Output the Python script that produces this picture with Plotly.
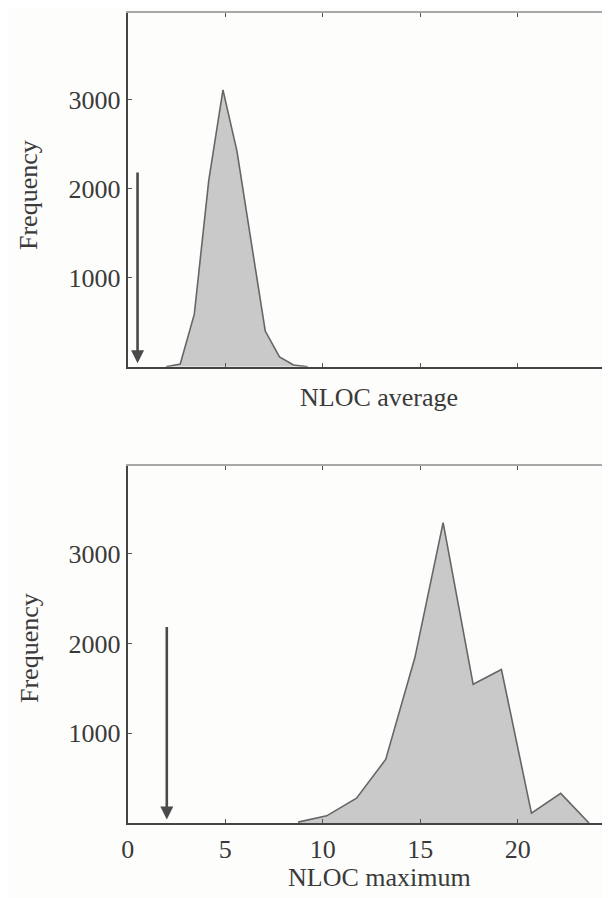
import plotly.graph_objects as go

# ---- data ----
avg_x = [1.96, 2.69, 3.41, 4.15, 4.88, 5.60, 6.33, 7.05, 7.78, 8.50, 9.23]
avg_y = [0, 30, 590, 2090, 3110, 2420, 1400, 400, 110, 20, 0]

max_x = [8.73, 10.20, 11.73, 13.23, 14.72, 16.17, 17.71, 19.16, 20.70, 22.20, 23.65]
max_y = [10, 80, 277, 710, 1840, 3345, 1545, 1710, 110, 330, 0]

arrow_x = [0.5, 2.0]        # arrow positions (top, bottom panel)
arrow_from = 2200
arrow_to = 40

x_ticks = [0, 5, 10, 15, 20]
x_ticklabels = ["0", "5", "10", "15", "20"]
y_ticks = [1000, 2000, 3000]
y_ticklabels = ["1000", "2000", "3000"]

x_label_top = "NLOC average"
x_label_bottom = "NLOC maximum"
y_label = "Frequency"

# ---- styling ----
W, H = 610, 898          # page body has an 8px margin; figure coords = page - 8
BG = "#fdfdfb"
FONT = "Liberation Serif"
TXT = "#3a3a3a"
FS = 26
PX_PER_UNIT = 19.5
X_LEFT, X_RIGHT = 119.8, 605.0
XRANGE = [0, (X_RIGHT - X_LEFT) / PX_PER_UNIT]
YRANGE = [0, 3980]
XDOM = [X_LEFT / W, X_RIGHT / W]
YDOM_TOP = [1 - 358.7 / H, 1 - 4.5 / H]
YDOM_BOT = [1 - 815.0 / H, 1 - 457.7 / H]

fig = go.Figure()
fig.add_trace(go.Scatter(x=avg_x, y=avg_y, mode="lines", fill="tozeroy",
                         fillcolor="#c9c9c9", line=dict(color="#666666", width=1.6),
                         xaxis="x", yaxis="y", showlegend=False, hoverinfo="skip"))
fig.add_trace(go.Scatter(x=max_x, y=max_y, mode="lines", fill="tozeroy",
                         fillcolor="#c9c9c9", line=dict(color="#666666", width=1.6),
                         xaxis="x2", yaxis="y2", showlegend=False, hoverinfo="skip"))


def xax(anchor, labels, overlay=None, side="bottom", linecolor="#444444", showline=True):
    d = dict(domain=XDOM, range=XRANGE, anchor=anchor, side=side, automargin=False,
             tickmode="array", tickvals=x_ticks, ticktext=x_ticklabels,
             showticklabels=labels, ticks="inside", ticklen=4, tickwidth=1,
             tickcolor="#555555", showline=showline, linecolor=linecolor,
             linewidth=2, showgrid=False, zeroline=False, fixedrange=True,
             tickfont=dict(family=FONT, size=FS, color=TXT), ticklabelstandoff=2)
    if overlay:
        d["overlaying"] = overlay
    return d


def yax(anchor, dom, overlay=None, side="left", showline=True, labels=True):
    d = dict(domain=dom, range=YRANGE, anchor=anchor, side=side, automargin=False,
             tickmode="array", tickvals=y_ticks, ticktext=y_ticklabels,
             showticklabels=labels, ticks="inside", ticklen=4, tickwidth=1,
             tickcolor="#555555", showline=showline, linecolor="#444444",
             linewidth=2, showgrid=False, zeroline=False, fixedrange=True,
             tickfont=dict(family=FONT, size=FS, color=TXT))
    if overlay:
        d["overlaying"] = overlay
    return d


fig.update_layout(
    width=W, height=H,
    margin=dict(l=0, r=0, t=0, b=0, autoexpand=False),
    paper_bgcolor=BG, plot_bgcolor=BG,
    font=dict(family=FONT, size=FS, color=TXT),
    xaxis=xax("y", False),
    yaxis=yax("x", YDOM_TOP),
    xaxis2=xax("y2", True),
    yaxis2=yax("x2", YDOM_BOT),
    xaxis3=xax("y", False, overlay="x", side="top", linecolor="#a8a8a8"),
    yaxis3=yax("x", YDOM_TOP, overlay="y", side="right", showline=False, labels=False),
    xaxis4=xax("y2", False, overlay="x2", side="top", linecolor="#a8a8a8"),
    yaxis4=yax("x2", YDOM_BOT, overlay="y2", side="right", showline=False, labels=False),
)

# invisible helper traces so the overlay axes are drawn
fig.add_trace(go.Scatter(x=[None], y=[None], xaxis="x3", yaxis="y3", showlegend=False))
fig.add_trace(go.Scatter(x=[None], y=[None], xaxis="x4", yaxis="y4", showlegend=False))

annotations = []
# arrows
for ax_name, xv in zip(["", "2"], arrow_x):
    annotations.append(dict(x=xv, y=arrow_to, ax=xv, ay=arrow_from,
                            xref="x" + ax_name, yref="y" + ax_name,
                            axref="x" + ax_name, ayref="y" + ax_name,
                            text="", showarrow=True, arrowhead=2, arrowsize=1.0,
                            arrowwidth=2.6, arrowcolor="#4a4a4a"))
# axis titles
annotations.append(dict(text=x_label_top, xref="paper", yref="paper",
                        x=371 / W, y=1 - 389 / H, xanchor="center", yanchor="middle",
                        showarrow=False, font=dict(family=FONT, size=FS, color=TXT)))
annotations.append(dict(text=x_label_bottom, xref="paper", yref="paper",
                        x=371 / W, y=1 - 869 / H, xanchor="center", yanchor="middle",
                        showarrow=False, font=dict(family=FONT, size=FS, color=TXT)))
for yc in [187, 640]:
    annotations.append(dict(text=y_label, xref="paper", yref="paper",
                            x=21 / W, y=1 - yc / H, xanchor="center", yanchor="middle",
                            textangle=-90, showarrow=False,
                            font=dict(family=FONT, size=FS, color=TXT)))
fig.update_layout(annotations=annotations)

fig.write_html("out.html")
